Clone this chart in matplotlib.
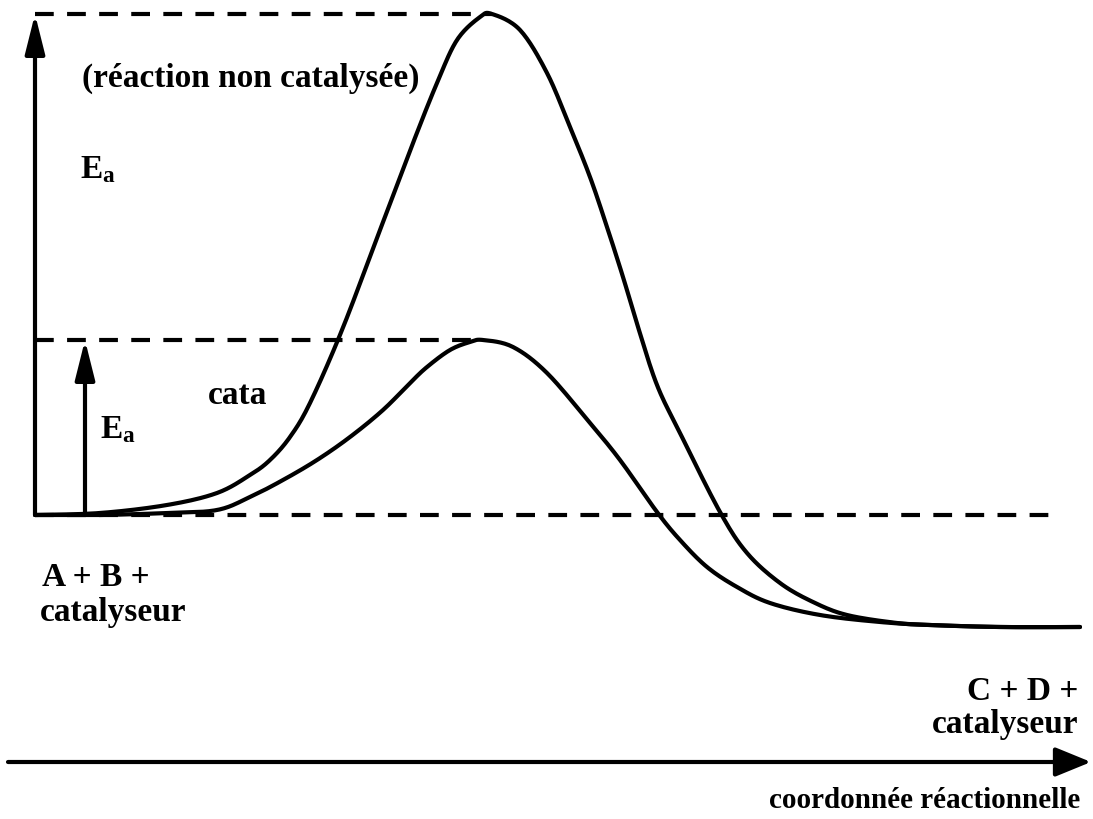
import matplotlib
matplotlib.use("Agg")
import matplotlib.pyplot as plt
import numpy as np

plt.rcParams['font.family'] = ['Liberation Serif', 'DejaVu Serif']
plt.rcParams['mathtext.fontset'] = 'custom'
plt.rcParams['mathtext.rm'] = 'Liberation Serif:bold'
plt.rcParams['mathtext.it'] = 'Liberation Serif:bold'
plt.rcParams['mathtext.bf'] = 'Liberation Serif:bold'

# Reaction coordinate (x) and energy relative to reactants (E)
uncat_x = [35, 100, 167, 217, 250, 270, 290, 310, 342, 380, 413, 437, 457, 480, 492,
           520, 547, 570, 590, 607, 623, 638, 657, 680, 720, 747, 780, 813, 847, 897,
           930, 1000, 1080]
uncat_E = [0, 2, 10, 22, 40, 55, 78, 112, 185, 285, 372, 432, 475, 498, 501,
           485, 442, 388, 338, 288, 238, 188, 130, 82, 3, -38, -68, -87, -100, -108,
           -110, -112, -112]

cat_x = [35, 100, 167, 217, 250, 283, 317, 350, 383, 410, 427, 450, 470, 483, 513, 547,
         590, 620, 657, 680, 707, 737, 770, 820, 880, 930, 1000, 1080]
cat_E = [0, 0, 2, 5, 18, 35, 55, 78, 105, 132, 148, 165, 173, 175, 168, 142,
         92, 55, 3, -25, -52, -72, -88, -100, -107, -110, -112, -112]

E_reactants = 0
E_peak_uncat = 501
E_peak_cat = 175
x_left = 35
x_peak_uncat = 492
x_peak_cat = 483
x_right_dash = 1050
x_ea2 = 85
E_axis = -247
x_axis = [8, 1091]

labels = {
    'uncat': '(réaction non catalysée)',
    'ea': r'E$_{\mathrm{a}}$',
    'cata': 'cata',
    'react1': 'A + B +',
    'react2': 'catalyseur',
    'prod1': 'C + D +',
    'prod2': 'catalyseur',
    'xlabel': 'coordonnée réactionnelle',
}


def smooth(x, y, n=16):
    """Draw a smooth (Catmull-Rom) line through the read points."""
    p = np.column_stack([x, y]).astype(float)
    p = np.vstack([p[0], p, p[-1]])
    out = []
    t = np.linspace(0, 1, n, endpoint=False)[:, None]
    for i in range(1, len(p) - 2):
        p0, p1, p2, p3 = p[i - 1], p[i], p[i + 1], p[i + 2]
        seg = 0.5 * ((2 * p1) + (-p0 + p2) * t + (2 * p0 - 5 * p1 + 4 * p2 - p3) * t ** 2
                     + (-p0 + 3 * p1 - 3 * p2 + p3) * t ** 3)
        out.append(seg)
    out.append(p[-2][None, :])
    out = np.vstack(out)
    return out[:, 0], out[:, 1]


fig = plt.figure(figsize=(10.93, 8.19), dpi=100)
ax = fig.add_axes([0, 0, 1, 1])
ax.set_xlim(0, 1093)
ax.set_ylim(-304, 515)
ax.axis('off')

lw = 3.0
for xs, ys in [(uncat_x, uncat_E), (cat_x, cat_E)]:
    sx, sy = smooth(xs, ys)
    ax.plot(sx, sy, color='black', lw=lw, solid_joinstyle='round', solid_capstyle='round')

dash = dict(color='black', lw=lw, linestyle=(0, (4.5, 3.2)))
ax.plot([x_left, x_right_dash], [E_reactants, E_reactants], **dash)
ax.plot([x_left, x_peak_uncat], [E_peak_uncat, E_peak_uncat], **dash)
ax.plot([x_left, x_peak_cat], [E_peak_cat, E_peak_cat], **dash)

arr = dict(arrowstyle='-|>,head_length=1.2,head_width=0.3', lw=lw, color='black',
           shrinkA=0, shrinkB=0, mutation_scale=20)
ax.annotate('', xy=(x_left, E_peak_uncat), xytext=(x_left, E_reactants), arrowprops=arr)
ax.annotate('', xy=(x_ea2, E_peak_cat), xytext=(x_ea2, E_reactants), arrowprops=arr)

arr2 = dict(arrowstyle='-|>,head_length=1.1,head_width=0.45', lw=lw, color='black',
            shrinkA=0, shrinkB=0, mutation_scale=20)
ax.annotate('', xy=(x_axis[1], E_axis), xytext=(x_axis[0], E_axis), arrowprops=arr2)

fs = 24
tk = dict(fontsize=fs, fontweight='bold', color='black')
ax.text(82, 437, labels['uncat'], ha='left', va='center', **tk)
ax.text(80, 345, labels['ea'], ha='left', va='center', **tk)
ax.text(208, 120, labels['cata'], ha='left', va='center', **tk)
ax.text(100, 85, labels['ea'], ha='left', va='center', **tk)
ax.text(42, -63, labels['react1'], ha='left', va='center', **tk)
ax.text(40, -97, labels['react2'], ha='left', va='center', **tk)
ax.text(1078, -177, labels['prod1'], ha='right', va='center', **tk)
ax.text(1078, -210, labels['prod2'], ha='right', va='center', **tk)
ax.text(1080, -285, labels['xlabel'], ha='right', va='center',
        fontsize=21, fontweight='bold', color='black')

fig.savefig('out.png', dpi=100, facecolor='white')
